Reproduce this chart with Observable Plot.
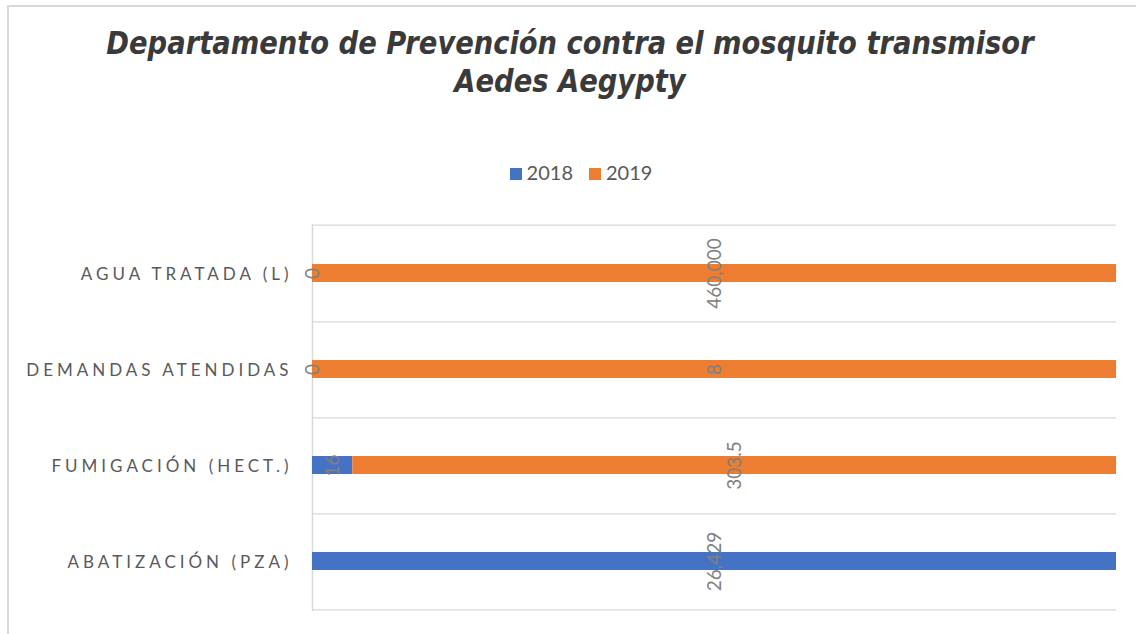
<!DOCTYPE html>
<html>
<head>
<meta charset="utf-8">
<script src="https://cdn.jsdelivr.net/npm/d3@7"></script>
<script src="https://cdn.jsdelivr.net/npm/@observablehq/plot@0.6"></script>
<style>
  html, body { margin: 0; padding: 0; background: #fff; }
  #chart { position: relative; width: 1136px; height: 634px; overflow: hidden; background: #fff; }
  #frame { position: absolute; left: 7px; top: 5px; width: 1200px; height: 800px;
           border-top: 2px solid #d9d9d9; border-left: 2px solid #d9d9d9; }
  #title { position: absolute; left: 0; top: 24px; width: 1140px; text-align: center;
           font-family: "DejaVu Sans Condensed", "DejaVu Sans", sans-serif; font-weight: bold; font-style: italic;
           font-size: 32px; line-height: 38px; color: #3a3a3a; transform: scaleX(0.95); transform-origin: 570px 0; }
  #legend { position: absolute; left: 0; top: 160px; width: 1162px; text-align: center;
            font-family: Lato, "Open Sans", sans-serif; font-size: 20px; color: #595959; }
  #legend span.item { display: inline-block; margin: 0 8px; }
  #legend span.sw { display: inline-block; width: 12px; height: 12px; margin-right: 5px; vertical-align: 0px; }
  #plot { position: absolute; left: 0; top: 200px; }
  #plot svg g[aria-label="y-axis tick label"] text { letter-spacing: 4px; }
</style>
</head>
<body>
<div id="chart">
  <div id="frame"></div>
  <div id="title">Departamento de Prevención contra el mosquito transmisor<br>Aedes Aegypty</div>
  <div id="legend"></div>
  <div id="plot"></div>
</div>
<script>
// Data
const categories = ["AGUA TRATADA (L)", "DEMANDAS ATENDIDAS", "FUMIGACIÓN (HECT.)", "ABATIZACIÓN (PZA)"];
const years = ["2018", "2019"];
const values2018 = [0, 0, 16, 26429];
const values2019 = [460000, 8, 303.5, null];
const colors = ["#4472C4", "#ED7D31"];

const rows = [];
categories.forEach((c, i) => { if (values2018[i] != null) rows.push({cat: c, year: "2018", value: values2018[i]}); });
categories.forEach((c, i) => { if (values2019[i] != null) rows.push({cat: c, year: "2019", value: values2019[i]}); });

const fmt = d3.format(",");

// Legend
const legend = document.getElementById("legend");
years.forEach((y, i) => {
  const s = document.createElement("span");
  s.className = "item";
  s.innerHTML = `<span class="sw" style="background:${colors[i]}"></span>${y}`;
  legend.appendChild(s);
});

const W = 1136, H = 434, mT = 24, mB = 23, mL = 312, mR = 20;
const step = (H - mT - mB) / categories.length;

const chart = Plot.plot({
  width: W,
  height: H,
  marginTop: mT,
  marginBottom: mB,
  marginLeft: mL,
  marginRight: mR,
  style: { background: "transparent", fontFamily: "Lato, 'Open Sans', sans-serif" },
  x: { domain: [0, 1], axis: null },
  y: { domain: categories, paddingInner: 0.81, paddingOuter: 0.405, label: null, axis: null },
  color: { domain: years, range: colors },
  marks: [
    Plot.ruleY(categories, { y: d => d, dy: step / 2, stroke: "#d9d9d9", strokeWidth: 1.4 }),
    Plot.ruleY([categories[0]], { y: d => d, dy: -step / 2, stroke: "#d9d9d9", strokeWidth: 1.4 }),
    Plot.ruleX([0], { stroke: "#d9d9d9", strokeWidth: 1.4 }),
    Plot.barX(rows, Plot.stackX({ x: "value", y: "cat", z: "year", fill: "year", offset: "normalize" })),
    Plot.axisY({ tickSize: 0, tickPadding: 20, fontSize: 17, fill: "#595959", label: null, dy: 1 }),
    Plot.text(rows, Plot.stackX({ x: "value", y: "cat", z: "year", offset: "normalize",
      text: d => fmt(d.value), rotate: -90, fill: "#808080", fontSize: 19 }))
  ]
});
document.getElementById("plot").appendChild(chart);
</script>
</body>
</html>
